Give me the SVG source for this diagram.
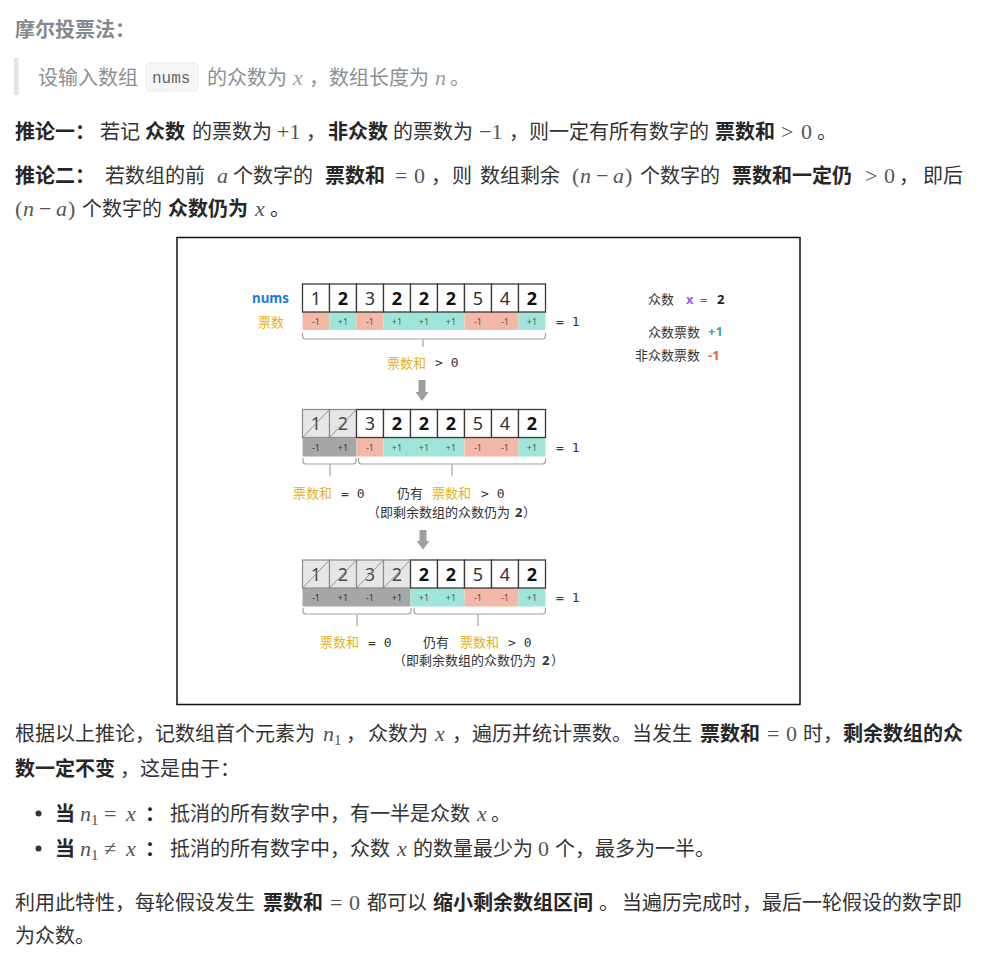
<svg xmlns="http://www.w3.org/2000/svg" width="993" height="959" viewBox="0 0 993 959">
<style>
.t{font-family:'Noto Sans CJK SC',sans-serif;font-size:20px;fill:#333}
.b{font-weight:700;fill:#262626}
.q{fill:#8c9096}
.m{font-family:'Liberation Serif',serif;font-size:22px;fill:#555}
.mq{fill:#9a9ea3}
.i{font-style:italic}
.s{font-size:15px}
.d{font-family:'Noto Sans',sans-serif;font-size:18px;fill:#333;text-anchor:middle}
.db{font-weight:700;fill:#111}
.dx{fill:#4a4a4a}
.v{font-family:'Noto Sans',sans-serif;font-size:9px;fill:#555;text-anchor:middle}
.c{font-family:'Noto Sans CJK SC',sans-serif;font-size:13px;fill:#333}
.y{fill:#e4b021}
.mo{font-family:'DejaVu Sans Mono',monospace;font-size:12px;fill:#333}
.cell{fill:#fff;stroke:#3a3a3a;stroke-width:1.3}
.xc{fill:#e6e6e6;stroke:#8c8c8c;stroke-width:1.2}
.diag{stroke:#8a8a8a;stroke-width:0.9}
.r{fill:#f4b8a8}
.g{fill:#9fe5da}
.k{fill:#a7a7a7}
.br{fill:none;stroke:#a3a3a3;stroke-width:1.2}
.ar{fill:#9e9e9e}
</style>
<rect width="993" height="959" fill="#fff"/>

<g id="text-top">
<text class="t b" x="15" y="36.5" style="fill:#85898e">摩尔投票法：</text>
<rect x="14" y="58" width="4.5" height="37" fill="#e3e4e8"/>
<text class="t q" x="38" y="84.5">设输入数组</text>
<rect x="146" y="63" width="52" height="28" rx="3" fill="#f6f6f7" stroke="#ebebeb"/>
<text x="152" y="82.5" style="font-family:'Liberation Mono',monospace;font-size:16px;fill:#666">nums</text>
<text class="t q" x="207" y="84.5">的众数为</text>
<text class="m mq i" x="293" y="84.5">x</text>
<text class="t q" x="309" y="84.5">，数组长度为</text>
<text class="m mq i" x="435" y="84.5">n</text>
<text class="t q" x="450" y="84.5">。</text>

<text class="t b" x="15" y="138.5">推论一：</text>
<text class="t" x="100" y="138.5">若记</text>
<text class="t b" x="145" y="138.5">众数</text>
<text class="t" x="192" y="138.5">的票数为</text>
<text class="m" x="277" y="138.5">+1</text>
<text class="t" x="306" y="138.5">，</text>
<text class="t b" x="328" y="138.5">非众数</text>
<text class="t" x="393" y="138.5">的票数为</text>
<text class="m" x="479" y="138.5">−1</text>
<text class="t" x="509" y="138.5">，则一定有所有数字的</text>
<text class="t b" x="715" y="138.5">票数和</text>
<text class="m" x="781" y="138.5">&gt;</text>
<text class="m" x="801" y="138.5">0</text>
<text class="t" x="817" y="138.5">。</text>

<text class="t b" x="15" y="182.5">推论二：</text>
<text class="t" x="105" y="182.5">若数组的前</text>
<text class="m i" x="217" y="182.5">a</text>
<text class="t" x="233" y="182.5">个数字的</text>
<text class="t b" x="325" y="182.5">票数和</text>
<text class="m" x="395" y="182.5">=</text>
<text class="m" x="414" y="182.5">0</text>
<text class="t" x="431" y="182.5">，</text>
<text class="t" x="452" y="182.5">则</text>
<text class="t" x="480" y="182.5">数组剩余</text>
<text class="m" x="572" y="182.5">(</text>
<text class="m i" x="580" y="182.5">n</text>
<text class="m" x="596" y="182.5">−</text>
<text class="m i" x="613" y="182.5">a</text>
<text class="m" x="625" y="182.5">)</text>
<text class="t" x="640" y="182.5">个数字的</text>
<text class="t b" x="732" y="182.5">票数和一定仍</text>
<text class="m" x="865" y="182.5">&gt;</text>
<text class="m" x="884" y="182.5">0</text>
<text class="t" x="899" y="182.5">，</text>
<text class="t" x="923" y="182.5">即后</text>

<text class="m" x="15" y="215.5">(</text>
<text class="m i" x="23" y="215.5">n</text>
<text class="m" x="39" y="215.5">−</text>
<text class="m i" x="56" y="215.5">a</text>
<text class="m" x="68" y="215.5">)</text>
<text class="t" x="82" y="215.5">个数字的</text>
<text class="t b" x="168" y="215.5">众数仍为</text>
<text class="m i" x="255" y="215.5">x</text>
<text class="t" x="270" y="215.5">。</text>
</g>

<rect x="177" y="237.5" width="623" height="467" fill="#fff" stroke="#111" stroke-width="1.5"/>

<g id="legend">
<text class="c" x="648" y="304">众数</text>
<text x="686" y="303.5" style="font-family:'Noto Sans',sans-serif;font-size:13px;font-weight:700;fill:#9a5cf0">x</text>
<text class="mo" x="700" y="303.5" style="fill:#666">=</text>
<text x="717" y="303.5" style="font-family:'Noto Sans',sans-serif;font-size:13px;font-weight:700;fill:#222">2</text>
<text class="c" x="700" y="336.5" text-anchor="end">众数票数</text>
<text x="708" y="336" style="font-family:'Noto Sans',sans-serif;font-size:13px;font-weight:700;fill:#36ab9c">+1</text>
<text class="c" x="700" y="360" text-anchor="end">非众数票数</text>
<text x="708" y="359.5" style="font-family:'Noto Sans',sans-serif;font-size:13px;font-weight:700;fill:#f0603c">-1</text>
</g>

<g id="row1">
<text x="252" y="302.5" textLength="37" lengthAdjust="spacingAndGlyphs" style="font-family:'Noto Sans',sans-serif;font-size:14px;font-weight:700;fill:#1a7be6">nums</text>
<text class="c y" x="258" y="326.5">票数</text>
<rect class="r" x="302.5" y="312" width="27" height="18"/>
<rect class="g" x="329.5" y="312" width="27" height="18"/>
<rect class="r" x="356.5" y="312" width="27" height="18"/>
<rect class="g" x="383.5" y="312" width="81" height="18"/>
<rect class="r" x="464.5" y="312" width="54" height="18"/>
<rect class="g" x="518.5" y="312" width="27" height="18"/>
<rect class="cell" x="302.5" y="284" width="27" height="28"/>
<rect class="cell" x="329.5" y="284" width="27" height="28"/>
<rect class="cell" x="356.5" y="284" width="27" height="28"/>
<rect class="cell" x="383.5" y="284" width="27" height="28"/>
<rect class="cell" x="410.5" y="284" width="27" height="28"/>
<rect class="cell" x="437.5" y="284" width="27" height="28"/>
<rect class="cell" x="464.5" y="284" width="27" height="28"/>
<rect class="cell" x="491.5" y="284" width="27" height="28"/>
<rect class="cell" x="518.5" y="284" width="27" height="28"/>
<text class="d" x="316" y="304.5">1</text>
<text class="d db" x="343" y="304.5">2</text>
<text class="d" x="370" y="304.5">3</text>
<text class="d db" x="397" y="304.5">2</text>
<text class="d db" x="424" y="304.5">2</text>
<text class="d db" x="451" y="304.5">2</text>
<text class="d" x="478" y="304.5">5</text>
<text class="d" x="505" y="304.5">4</text>
<text class="d db" x="532" y="304.5">2</text>
<text class="v" x="316" y="324.5">-1</text>
<text class="v" x="343" y="324.5">+1</text>
<text class="v" x="370" y="324.5">-1</text>
<text class="v" x="397" y="324.5">+1</text>
<text class="v" x="424" y="324.5">+1</text>
<text class="v" x="451" y="324.5">+1</text>
<text class="v" x="478" y="324.5">-1</text>
<text class="v" x="505" y="324.5">-1</text>
<text class="v" x="532" y="324.5">+1</text>
<text class="mo" x="556" y="325.5" style="font-size:13px">= 1</text>
<text class="c y" x="387" y="367.5">票数和</text>
<text class="mo" x="435" y="367" style="font-size:13px">&gt; 0</text>
</g>

<g id="row2">
<rect class="k" x="302.5" y="437.5" width="54" height="19"/>
<rect class="r" x="356.5" y="437.5" width="27" height="19"/>
<rect class="g" x="383.5" y="437.5" width="81" height="19"/>
<rect class="r" x="464.5" y="437.5" width="54" height="19"/>
<rect class="g" x="518.5" y="437.5" width="27" height="19"/>
<rect class="xc" x="302.5" y="409.5" width="27" height="28"/>
<rect class="xc" x="329.5" y="409.5" width="27" height="28"/>
<rect class="cell" x="356.5" y="409.5" width="27" height="28"/>
<rect class="cell" x="383.5" y="409.5" width="27" height="28"/>
<rect class="cell" x="410.5" y="409.5" width="27" height="28"/>
<rect class="cell" x="437.5" y="409.5" width="27" height="28"/>
<rect class="cell" x="464.5" y="409.5" width="27" height="28"/>
<rect class="cell" x="491.5" y="409.5" width="27" height="28"/>
<rect class="cell" x="518.5" y="409.5" width="27" height="28"/>
<text class="d dx" x="316" y="430">1</text>
<text class="d dx" x="343" y="430">2</text>
<line class="diag" x1="302.5" y1="437.5" x2="329.5" y2="409.5"/>
<line class="diag" x1="329.5" y1="437.5" x2="356.5" y2="409.5"/>
<text class="d" x="370" y="430">3</text>
<text class="d db" x="397" y="430">2</text>
<text class="d db" x="424" y="430">2</text>
<text class="d db" x="451" y="430">2</text>
<text class="d" x="478" y="430">5</text>
<text class="d" x="505" y="430">4</text>
<text class="d db" x="532" y="430">2</text>
<text class="v" x="316" y="450.5" style="fill:#333">-1</text>
<text class="v" x="343" y="450.5" style="fill:#333">+1</text>
<text class="v" x="370" y="450.5">-1</text>
<text class="v" x="397" y="450.5">+1</text>
<text class="v" x="424" y="450.5">+1</text>
<text class="v" x="451" y="450.5">+1</text>
<text class="v" x="478" y="450.5">-1</text>
<text class="v" x="505" y="450.5">-1</text>
<text class="v" x="532" y="450.5">+1</text>
<text class="mo" x="556" y="452" style="font-size:13px">= 1</text>
<text class="c y" x="293" y="497.5">票数和</text>
<text class="mo" x="341" y="497.5" style="font-size:13px">= 0</text>
<text class="c" x="397" y="497.5">仍有</text>
<text class="c y" x="432" y="497.5">票数和</text>
<text class="mo" x="481" y="497.5" style="font-size:13px">&gt; 0</text>
<text class="c" x="367" y="516.5">（即剩余数组的众数仍为</text>
<text class="c" x="515" y="516.5" style="font-weight:700;font-family:'Noto Sans',sans-serif">2</text>
<text class="c" x="523" y="516.5">）</text>
</g>

<g id="row3">
<rect class="k" x="302.5" y="588" width="108" height="18.5"/>
<rect class="g" x="410.5" y="588" width="54" height="18.5"/>
<rect class="r" x="464.5" y="588" width="54" height="18.5"/>
<rect class="g" x="518.5" y="588" width="27" height="18.5"/>
<rect class="xc" x="302.5" y="560" width="27" height="28"/>
<rect class="xc" x="329.5" y="560" width="27" height="28"/>
<rect class="xc" x="356.5" y="560" width="27" height="28"/>
<rect class="xc" x="383.5" y="560" width="27" height="28"/>
<rect class="cell" x="410.5" y="560" width="27" height="28"/>
<rect class="cell" x="437.5" y="560" width="27" height="28"/>
<rect class="cell" x="464.5" y="560" width="27" height="28"/>
<rect class="cell" x="491.5" y="560" width="27" height="28"/>
<rect class="cell" x="518.5" y="560" width="27" height="28"/>
<text class="d dx" x="316" y="580.5">1</text>
<text class="d dx" x="343" y="580.5">2</text>
<text class="d dx" x="370" y="580.5">3</text>
<text class="d dx" x="397" y="580.5">2</text>
<line class="diag" x1="302.5" y1="588" x2="329.5" y2="560"/>
<line class="diag" x1="329.5" y1="588" x2="356.5" y2="560"/>
<line class="diag" x1="356.5" y1="588" x2="383.5" y2="560"/>
<line class="diag" x1="383.5" y1="588" x2="410.5" y2="560"/>
<text class="d db" x="424" y="580.5">2</text>
<text class="d db" x="451" y="580.5">2</text>
<text class="d" x="478" y="580.5">5</text>
<text class="d" x="505" y="580.5">4</text>
<text class="d db" x="532" y="580.5">2</text>
<text class="v" x="316" y="600.5" style="fill:#333">-1</text>
<text class="v" x="343" y="600.5" style="fill:#333">+1</text>
<text class="v" x="370" y="600.5" style="fill:#333">-1</text>
<text class="v" x="397" y="600.5" style="fill:#333">+1</text>
<text class="v" x="424" y="600.5">+1</text>
<text class="v" x="451" y="600.5">+1</text>
<text class="v" x="478" y="600.5">-1</text>
<text class="v" x="505" y="600.5">-1</text>
<text class="v" x="532" y="600.5">+1</text>
<text class="mo" x="556" y="602" style="font-size:13px">= 1</text>
<text class="c y" x="320" y="646.5">票数和</text>
<text class="mo" x="368" y="646.5" style="font-size:13px">= 0</text>
<text class="c" x="423" y="646.5">仍有</text>
<text class="c y" x="460" y="646.5">票数和</text>
<text class="mo" x="508" y="646.5" style="font-size:13px">&gt; 0</text>
<text class="c" x="393" y="665">（即剩余数组的众数仍为</text>
<text class="c" x="542" y="665" style="font-weight:700;font-family:'Noto Sans',sans-serif">2</text>
<text class="c" x="551" y="665">）</text>
</g>

<g id="connectors">
<path class="br" d="M302.5,332.5 V336 Q302.5,339 305.5,339 H542.5 Q545.5,339 545.5,336 V332.5 M423,339 V347"/>
<path class="br" d="M303,458 V461 Q303,464 306,464 H353 Q356,464 356,461 V458 M330,464 V476"/>
<path class="br" d="M358.5,458 V461 Q358.5,464 361.5,464 H542.5 Q545.5,464 545.5,461 V458 M452,464 V476"/>
<path class="br" d="M303,608 V611 Q303,614 306,614 H408 Q411,614 411,611 V608 M357,614 V626"/>
<path class="br" d="M414,608 V611 Q414,614 417,614 H542.5 Q545.5,614 545.5,611 V608 M478,614 V626"/>
<polygon class="ar" points="418.5,380 425.5,380 425.5,392 428.5,392 422,401 415.5,392 418.5,392"/>
<polygon class="ar" points="419.5,530 426.5,530 426.5,541 429.5,541 423,549.5 416.5,541 419.5,541"/>
</g>

<g id="text-bottom">
<text class="t" x="15" y="740.5">根据以上推论，记数组首个元素为</text>
<text class="m i" x="323" y="740.5">n</text>
<text class="m s" x="334" y="744.5">1</text>
<text class="t" x="346" y="740.5">，</text>
<text class="t" x="368" y="740.5">众数为</text>
<text class="m i" x="435" y="740.5">x</text>
<text class="t" x="452" y="740.5">，</text>
<text class="t" x="472" y="740.5">遍历并统计票数。当发生</text>
<text class="t b" x="700" y="740.5">票数和</text>
<text class="m" x="767" y="740.5">=</text>
<text class="m" x="786" y="740.5">0</text>
<text class="t" x="803" y="740.5">时，</text>
<text class="t b" x="843" y="740.5">剩余数组的众</text>
<text class="t b" x="15" y="775.5">数一定不变</text>
<text class="t" x="120" y="775.5">，这是由于：</text>

<circle cx="38.5" cy="813.5" r="3" fill="#333"/>
<text class="t b" x="55" y="820.5">当</text>
<text class="m i" x="80" y="820.5">n</text>
<text class="m s" x="91" y="824.5">1</text>
<text class="m" x="104" y="820.5">=</text>
<text class="m i" x="126" y="820.5">x</text>
<text class="t b" x="145" y="820.5">：</text>
<text class="t" x="170" y="820.5">抵消的所有数字中，有一半是众数</text>
<text class="m i" x="477" y="820.5">x</text>
<text class="t" x="491" y="820.5">。</text>

<circle cx="38.5" cy="848.5" r="3" fill="#333"/>
<text class="t b" x="55" y="855.5">当</text>
<text class="m i" x="80" y="855.5">n</text>
<text class="m s" x="91" y="859.5">1</text>
<text class="m" x="104" y="855.5">≠</text>
<text class="m i" x="126" y="855.5">x</text>
<text class="t b" x="145" y="855.5">：</text>
<text class="t" x="170" y="855.5">抵消的所有数字中，众数</text>
<text class="m i" x="397" y="855.5">x</text>
<text class="t" x="413" y="855.5">的数量最少为</text>
<text class="m" x="538" y="855.5">0</text>
<text class="t" x="555" y="855.5">个，最多为一半。</text>

<text class="t" x="15" y="909.5">利用此特性，每轮假设发生</text>
<text class="t b" x="263" y="909.5">票数和</text>
<text class="m" x="330" y="909.5">=</text>
<text class="m" x="349" y="909.5">0</text>
<text class="t" x="367" y="909.5">都可以</text>
<text class="t b" x="433" y="909.5">缩小剩余数组区间</text>
<text class="t" x="599" y="909.5">。</text>
<text class="t" x="622" y="909.5">当遍历完成时，最后一轮假设的数字即</text>
<text class="t" x="15" y="942.5">为众数。</text>
</g>
</svg>
